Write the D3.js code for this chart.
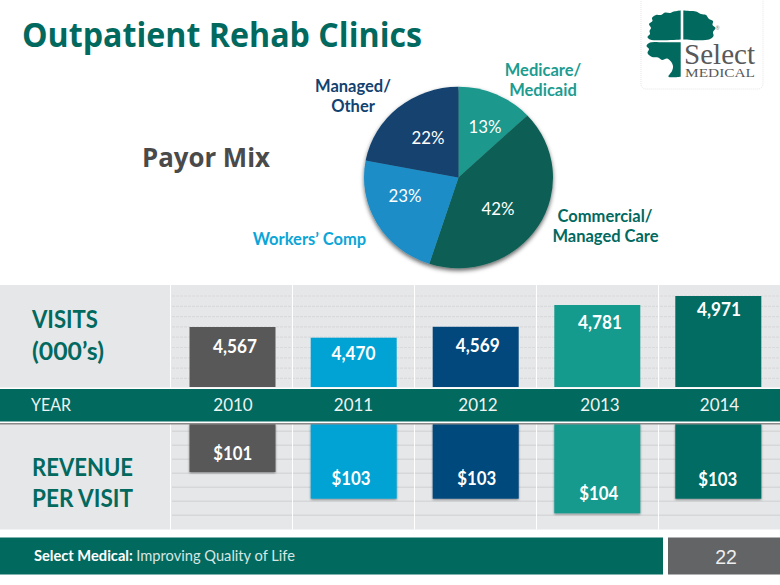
<!DOCTYPE html>
<html>
<head>
<meta charset="utf-8">
<script src="https://cdn.jsdelivr.net/npm/d3@7"></script>
<style>
html,body{margin:0;padding:0;background:#fff;}
svg{display:block;}
text{font-family:Lato,"Open Sans",sans-serif;font-variant-ligatures:none;}
</style>
</head>
<body>
<svg id="chart" width="780" height="585"></svg>
<script>
// values
var years = ['2010','2011','2012','2013','2014'];
var visits = [4567,4470,4569,4781,4971];
var visit_labels = ['4,567','4,470','4,569','4,781','4,971'];
var revenue = [101,103,103,104,103];
var revenue_labels = ['$101','$103','$103','$104','$103'];
var bar_colors = ['#585858','#00a3d3','#03487c','#159a8e','#026c63'];

var payor_share = [13,42,23,22];
var payor_colors = ['#1a988c','#115e54','#1a8dc6','#12426f'];

var teal = '#02695f';
var svg = d3.select('#chart');
var defs = svg.append('defs');

function add_text(x,y,str,size,color,weight,anchor){
	return svg.append('text').attr('x',x).attr('y',y).text(str)
		.attr('font-size',size).attr('fill',color)
		.attr('font-weight',weight||400)
		.attr('text-anchor',anchor||'start');
}
// Calibri is narrower than anything installed, so squeeze to the width on the slide
function fit(sel,w){
	return sel.attr('textLength',w).attr('lengthAdjust','spacingAndGlyphs');
}

// title
fit(add_text(22,47,'Outpatient Rehab Clinics',34,teal,700).style('font-family','"Open Sans",sans-serif'),400);
fit(add_text(142,167,'Payor Mix',27,'#4a4a4a',700).style('font-family','"Open Sans",sans-serif'),128);

// grey bands behind the bars
svg.append('rect').attr('x',0).attr('y',285).attr('width',780).attr('height',103).attr('fill','#e6e7e9');
svg.append('rect').attr('x',0).attr('y',424).attr('width',780).attr('height',105.5).attr('fill','#e6e7e9');
d3.range(296,386,10.3).forEach(function(y){
	svg.append('line').attr('x1',172).attr('x2',780).attr('y1',y).attr('y2',y)
		.attr('stroke','#d9dadc').attr('stroke-width',1.2).attr('stroke-dasharray','3 1');
});
d3.range(431.3,529,14).forEach(function(y){
	svg.append('line').attr('x1',172).attr('x2',780).attr('y1',y).attr('y2',y)
		.attr('stroke','#d6d7d9').attr('stroke-width',1.5);
});

// one column per year, the white rules sit on the column edges
var x = d3.scaleBand().domain(years).range([170.5,780.5]);
var center = function(yr){ return x(yr)+x.bandwidth()/2; };
years.forEach(function(yr){
	[[285,388],[424,529.5]].forEach(function(s){
		svg.append('line').attr('x1',x(yr)).attr('x2',x(yr)).attr('y1',s[0]).attr('y2',s[1])
			.attr('stroke','#fff').attr('stroke-width',1);
	});
});
var bar_w = 86;
var bar_dx = [1.5,0.7,0.7,0.3,-0.7];
var bar_x = function(i){ return center(years[i])-bar_w/2-0.5+bar_dx[i]; };

// the bars of the slide are drawn by hand and not to one linear scale, so each scale has knots
var y_visits = d3.scaleLinear().domain([4470,4567,4781,4971]).range([337.7,327,305,296]);
var y_revenue = d3.scaleLinear().domain([101,103,104]).range([472,498.7,513.3]);
var visits_base = 387, revenue_base = 424;

var f = defs.append('filter').attr('id','barshadow').attr('x','-5%').attr('y','-5%').attr('width','110%').attr('height','115%');
f.append('feDropShadow').attr('dx',0).attr('dy',1).attr('stdDeviation',0.8).attr('flood-color','#000').attr('flood-opacity',0.45);

svg.selectAll('.visit').data(visits).enter().append('rect')
	.attr('class','visit')
	.attr('x',function(d,i){return bar_x(i);})
	.attr('y',function(d){return y_visits(d);})
	.attr('width',bar_w)
	.attr('height',function(d){return visits_base-y_visits(d);})
	.attr('fill',function(d,i){return bar_colors[i];});

svg.selectAll('.rev').data(revenue).enter().append('rect')
	.attr('class','rev')
	.attr('x',function(d,i){return bar_x(i);})
	.attr('y',revenue_base)
	.attr('width',bar_w)
	.attr('height',function(d){return y_revenue(d)-revenue_base;})
	.attr('fill',function(d,i){return bar_colors[i];})
	.attr('filter','url(#barshadow)');

// small offsets of the value labels as placed on the slide
var visit_dx = [3.5,0,2.2,2.5,-0.5], visit_dy = [26,22,25,24,20];
var rev_dx = [1.2,-2.5,1.2,1.2,-1.8], rev_dy = [-12,-14,-14,-13,-13];
visits.forEach(function(d,i){
	fit(add_text(center(years[i])+visit_dx[i],y_visits(d)+visit_dy[i],visit_labels[i],18.5,'#fff',700,'middle'),44);
});
revenue.forEach(function(d,i){
	fit(add_text(center(years[i])+rev_dx[i],y_revenue(d)+rev_dy[i],revenue_labels[i],18.5,'#fff',700,'middle'),39);
});

// year strip
svg.append('rect').attr('x',0).attr('y',387.5).attr('width',780).attr('height',36.5).attr('fill','#fff');
svg.append('rect').attr('x',0).attr('y',389).attr('width',780).attr('height',32.5).attr('fill',teal);
svg.append('rect').attr('x',0).attr('y',423).attr('width',780).attr('height',1.5).attr('fill','#8a8a8a');
fit(add_text(31,411,'YEAR',17,'#eef4f3',400),40);
var year_dx = [1.5,0,2.5,2.5,0];
years.forEach(function(yr,i){
	add_text(center(yr)+year_dx[i],411,yr,17,'#eef4f3',400,'middle');
});

fit(add_text(32,328,'VISITS',24.5,teal,700),66);
fit(add_text(32,360,'(000\u2019s)',24.5,teal,700),72);
fit(add_text(32,476,'REVENUE',24.5,teal,700),101);
fit(add_text(32,507,'PER VISIT',24.5,teal,700),101);

// pie
var pie_cx = 458.5, pie_cy = 177.5;
var pie = d3.pie().sort(null).value(function(d){return d;});
var arc = d3.arc().innerRadius(0).outerRadius(94.5);
var pie_shadow = defs.append('filter').attr('id','pieshadow').attr('x','-10%').attr('y','-10%').attr('width','120%').attr('height','125%');
pie_shadow.append('feDropShadow').attr('dx',0).attr('dy',2.5).attr('stdDeviation',2).attr('flood-color','#000').attr('flood-opacity',0.6);
var pie_g = svg.append('g').attr('filter','url(#pieshadow)')
	.attr('transform','translate('+pie_cx+','+pie_cy+') scale(1,0.96)');
pie_g.selectAll('path').data(pie(payor_share)).enter().append('path')
	.attr('d',arc)
	.attr('fill',function(d,i){return payor_colors[i];});

var share_xy = [[485,132.5],[498,215],[405,202],[428,144]];
payor_share.forEach(function(d,i){
	fit(add_text(share_xy[i][0],share_xy[i][1],d+'%',17.5,'#fff',400,'middle'),33);
});

add_text(543,76,'Medicare/',16.5,'#1d9c90',700,'middle');
add_text(543,96,'Medicaid',16.5,'#1d9c90',700,'middle');
add_text(605,222,'Commercial/',16.5,teal,700,'middle');
add_text(605.5,242,'Managed Care',16.5,teal,700,'middle');
add_text(309.5,245,'Workers\u2019 Comp',16.5,'#0ba5d8',700,'middle');
add_text(353,92,'Managed/',16.5,'#12426f',700,'middle');
add_text(353,112,'Other',16.5,'#12426f',700,'middle');

// footer
svg.append('rect').attr('x',0).attr('y',537.5).attr('width',663).attr('height',37).attr('fill',teal);
svg.append('rect').attr('x',668).attr('y',537.5).attr('width',112).attr('height',37).attr('fill','#636466');
var foot = fit(add_text(34,561,'',15,'#fff',700),261);
foot.append('tspan').text('Select Medical: ');
foot.append('tspan').attr('font-weight',400).attr('fill','#d5e6e3').text('Improving Quality of Life');
add_text(726,564,'22',19.5,'#eee',400,'middle').style('font-family','"Liberation Sans",sans-serif');

// logo, outline traced by eye
var logo = svg.append('g');
logo.append('rect').attr('x',641).attr('y',-6).attr('width',122).attr('height',95).attr('rx',5)
	.attr('fill','#fff').attr('stroke','#e4e4e4').attr('stroke-dasharray','1 1');
var tree_parts = [
	[[680.7,10.5],[674,11.5],[670,13],[665,12.5],[661,15],[656,15],[652,18],[652.5,21],[649,24],[651,28],[649.5,31],[650,34],[647.5,37],[650,39.5],[680.7,39.5]],
	[[683.3,10.5],[690,11],[696,11.5],[701,14],[706,15],[709,19],[713,21],[712.5,25],[715.5,28],[713,32],[713.5,36],[709,39.5],[683.3,39.5]],
	[[680.7,42.3],[664,42.3],[650,42.5],[646.5,46],[649,49],[647.5,53],[652,57],[658,57.5],[662,60],[667,58.5],[670.5,61],[673,66],[672,71],[668.5,76.7],[680.7,76.7]]
];
var tree_line = d3.line().curve(d3.curveCatmullRom);
logo.selectAll('path').data(tree_parts).enter().append('path')
	.attr('d',function(d){return tree_line(d)+'Z';})
	.attr('fill',teal);
fit(add_text(684,63.5,'Select',30,'#58595b',400).style('font-family','"Liberation Serif",serif'),71);
fit(add_text(685,76.7,'MEDICAL',12,'#58595b',400).style('font-family','"Liberation Serif",serif'),70);
add_text(715.5,30,'\u00ae',5,'#8a8a8a',400);
</script>
</body>
</html>
